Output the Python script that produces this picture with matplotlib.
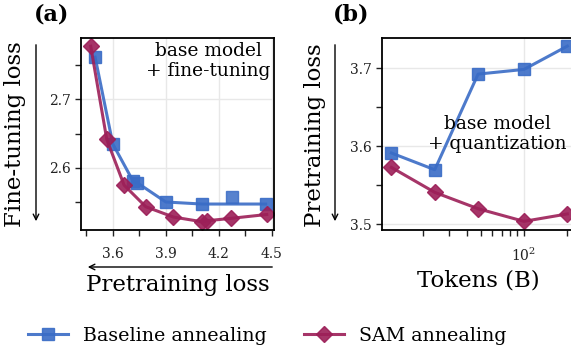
import matplotlib
matplotlib.use("Agg")
import matplotlib.pyplot as plt
from matplotlib.lines import Line2D
from matplotlib.patches import FancyArrowPatch
from matplotlib.ticker import MultipleLocator

plt.rcParams["font.family"] = "DejaVu Serif"
plt.rcParams["mathtext.fontset"] = "dejavuserif"

blue = "#3a6cc6"
red = "#9c1f58"

# (a) pretraining loss vs fine-tuning loss
base_pre = [3.50, 3.60, 3.716, 3.739, 3.90, 4.104, 4.466]
base_ft = [2.762, 2.635, 2.580, 2.578, 2.550, 2.547, 2.547]
base_extra_pre = [4.277]
base_extra_ft = [2.5575]
sam_pre = [3.475, 3.566, 3.664, 3.787, 3.943, 4.107, 4.132, 4.268, 4.472]
sam_ft = [2.778, 2.6416, 2.5747, 2.543, 2.528, 2.521, 2.5225, 2.526, 2.5317]

# (b) tokens vs pretraining loss after quantization
tokens = [12, 24, 48, 100, 200]
base_quant = [3.5915, 3.570, 3.6927, 3.6987, 3.7286]
sam_quant = [3.573, 3.541, 3.520, 3.5038, 3.5133]

W, H = 571, 348
fig = plt.figure(figsize=(W / 100, H / 100), dpi=100)


def box(l, t, r, b):
    return [l / W, 1 - b / H, (r - l) / W, (b - t) / H]


def px(x, y):
    return (x / W, 1 - y / H)


ax1 = fig.add_axes(box(81, 38, 274, 230))
ax2 = fig.add_axes(box(382, 38, 575, 230))

style = dict(lw=2.2, ms=8, alpha=0.9)
ax1.plot(base_pre, base_ft, color=blue, marker="s", **style)
ax1.plot(base_extra_pre, base_extra_ft, color=blue, marker="s", ls="none", ms=8, alpha=0.85)
ax1.plot(sam_pre, sam_ft, color=red, marker="D", **style)
ax1.set_xlim(3.42, 4.513)
ax1.set_ylim(2.509, 2.79)
ax1.xaxis.set_major_locator(MultipleLocator(0.3))
ax1.xaxis.set_minor_locator(MultipleLocator(0.15))
ax1.yaxis.set_major_locator(MultipleLocator(0.1))
ax1.yaxis.set_minor_locator(MultipleLocator(0.05))

ax2.plot(tokens, base_quant, color=blue, marker="s", **style)
ax2.plot(tokens, sam_quant, color=red, marker="D", **style)
ax2.set_xscale("log")
ax2.set_xlim(10.33, 226)
ax2.set_ylim(3.4927, 3.739)
ax2.yaxis.set_major_locator(MultipleLocator(0.1))
ax2.yaxis.set_minor_locator(MultipleLocator(0.05))

for ax in (ax1, ax2):
    ax.set_axisbelow(True)
    ax.grid(True, which="major", color="#e8e8e8", lw=1)
    ax.tick_params(which="both", direction="out", length=4, width=1, labelsize=10,
                   colors="#222222")
    ax.tick_params(axis="x", which="both", pad=8)
    for s in ax.spines.values():
        s.set_linewidth(1.3)

fig.text(*px(208, 61), "base model\n+ fine-tuning", ha="center", va="center",
         fontsize=13.4, linespacing=1.15)
fig.text(*px(497, 134), "base model\n+ quantization", ha="center", va="center",
         fontsize=13.4, linespacing=1.15)

fig.text(*px(52, 15), "(a)", fontsize=16, fontweight="bold", ha="center", va="center")
fig.text(*px(351, 15), "(b)", fontsize=16, fontweight="bold", ha="center", va="center")

fig.text(*px(15, 134), "Fine-tuning loss", rotation=90, fontsize=16.5, ha="center", va="center")
fig.text(*px(178, 285), "Pretraining loss", fontsize=16.5, ha="center", va="center")
fig.text(*px(315, 135), "Pretraining loss", rotation=90, fontsize=16.5, ha="center", va="center")
fig.text(*px(478, 281), "Tokens (B)", fontsize=16.5, ha="center", va="center")

for a, b in [((36, 42), (36, 224)), ((275, 267), (85, 267)), ((335, 42), (335, 224))]:
    fig.add_artist(FancyArrowPatch(px(*a), px(*b), transform=fig.transFigure,
                                   arrowstyle="->", mutation_scale=10, lw=1))

handles = [
    Line2D([], [], color=blue, marker="s", lw=2.2, ms=8, alpha=0.9),
    Line2D([], [], color=red, marker="D", lw=2.2, ms=8, alpha=0.9),
]
fig.legend(handles, ["Baseline annealing", "SAM annealing"], loc="center",
           bbox_to_anchor=px(267, 336), ncol=2, frameon=False, fontsize=13.7,
           handlelength=2.1, handletextpad=0.8, columnspacing=1.95)

fig.savefig("out.png", dpi=100)
